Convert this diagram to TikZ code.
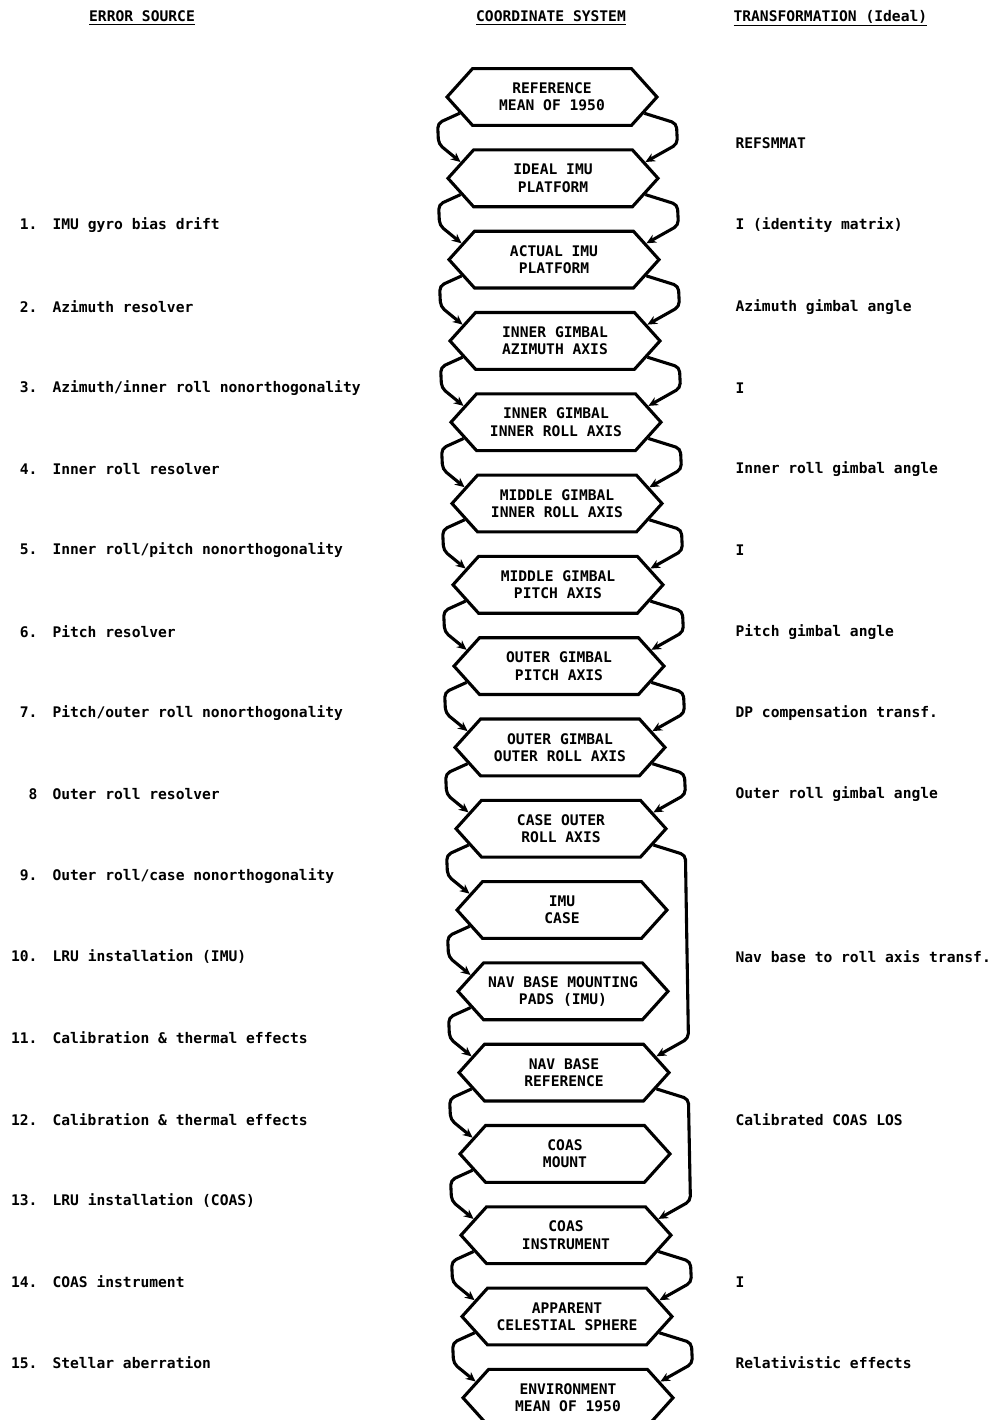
\documentclass[tikz,border=0pt]{standalone}
\usepackage{fontspec}
\setmainfont{DejaVu Sans Mono}
\usetikzlibrary{arrows.meta,shapes.symbols,calc}
\tikzset{>={Stealth[length=2.4mm,width=2.2mm]}}
\newcommand{\errno}[1]{\makebox[6.5mm][r]{#1}\hspace{3.75mm}}

\begin{document}
\begin{tikzpicture}[x=0.25mm, y=-0.25mm, line width=2.2pt,
  every node/.style={font=\fontsize{10.4}{12.2}\selectfont\bfseries},
  coord/.style={signal, signal to=west and east, signal pointer angle=96, draw,
    minimum width=52.5mm, minimum height=14.2mm, inner sep=0pt, align=center},
  lft/.style={to path={(\tikztostart.190) -- ++(-22,10) -- ($(\tikztotarget.170)+(-22,-18)$) -- (\tikztotarget.170)}},
  rgt/.style={to path={(\tikztostart.350) -- ++(32,10) -- ($(\tikztotarget.10)+(32,-18)$) -- (\tikztotarget.10)}},
  link/.style={->, rounded corners=1.2mm},
  err/.style={anchor=west, inner sep=0pt},
  trf/.style={anchor=west, inner sep=0pt}]
  \path[use as bounding box, clip] (0,0) rectangle (998,1420);

  % column headings
  \node (hsrc) at (142,18) {\underline{ERROR SOURCE}};
  \node (hsys) at (551,18) {\underline{COORDINATE SYSTEM}};
  \node (htrf) at (732,18) [trf] {\underline{TRANSFORMATION (Ideal)}};

  % coordinate systems
  \node (ref) at (552,97) [coord] {REFERENCE\\MEAN OF 1950};
  \node (ideal) at (553,178.3) [coord] {IDEAL IMU\\PLATFORM};
  \node (actual) at (554,259.6) [coord] {ACTUAL IMU\\PLATFORM};
  \node (igaz) at (555,340.9) [coord] {INNER GIMBAL\\AZIMUTH AXIS};
  \node (igir) at (556,422.2) [coord] {INNER GIMBAL\\INNER ROLL AXIS};
  \node (mgir) at (557,503.5) [coord] {MIDDLE GIMBAL\\INNER ROLL AXIS};
  \node (mgp) at (558,584.8) [coord] {MIDDLE GIMBAL\\PITCH AXIS};
  \node (ogp) at (559,666.1) [coord] {OUTER GIMBAL\\PITCH AXIS};
  \node (ogor) at (560,747.4) [coord] {OUTER GIMBAL\\OUTER ROLL AXIS};
  \node (case) at (561,828.7) [coord] {CASE OUTER\\ROLL AXIS};
  \node (imucase) at (562,910) [coord] {IMU\\CASE};
  \node (pads) at (563,991.3) [coord] {NAV BASE MOUNTING\\PADS (IMU)};
  \node (navbase) at (564,1072.6) [coord] {NAV BASE\\REFERENCE};
  \node (mount) at (565,1153.9) [coord] {COAS\\MOUNT};
  \node (coas) at (566,1235.2) [coord] {COAS\\INSTRUMENT};
  \node (sphere) at (567,1316.5) [coord] {APPARENT\\CELESTIAL SPHERE};
  \node (env) at (568,1397.8) [coord] {ENVIRONMENT\\MEAN OF 1950};

  % left chain
  \draw[link] (ref) to[lft] (ideal);
  \draw[link] (ideal) to[lft] (actual);
  \draw[link] (actual) to[lft] (igaz);
  \draw[link] (igaz) to[lft] (igir);
  \draw[link] (igir) to[lft] (mgir);
  \draw[link] (mgir) to[lft] (mgp);
  \draw[link] (mgp) to[lft] (ogp);
  \draw[link] (ogp) to[lft] (ogor);
  \draw[link] (ogor) to[lft] (case);
  \draw[link] (case) to[lft] (imucase);
  \draw[link] (imucase) to[lft] (pads);
  \draw[link] (pads) to[lft] (navbase);
  \draw[link] (navbase) to[lft] (mount);
  \draw[link] (mount) to[lft] (coas);
  \draw[link] (coas) to[lft] (sphere);
  \draw[link] (sphere) to[lft] (env);

  % right chain
  \draw[link] (ref) to[rgt] (ideal);
  \draw[link] (ideal) to[rgt] (actual);
  \draw[link] (actual) to[rgt] (igaz);
  \draw[link] (igaz) to[rgt] (igir);
  \draw[link] (igir) to[rgt] (mgir);
  \draw[link] (mgir) to[rgt] (mgp);
  \draw[link] (mgp) to[rgt] (ogp);
  \draw[link] (ogp) to[rgt] (ogor);
  \draw[link] (ogor) to[rgt] (case);
  \draw[link] (case) to[rgt] (navbase);
  \draw[link] (navbase) to[rgt] (coas);
  \draw[link] (coas) to[rgt] (sphere);
  \draw[link] (sphere) to[rgt] (env);

  % error sources
  \node (e1) at (10,225) [err] {\errno{1.}IMU gyro bias drift};
  \node (e2) at (10,307) [err] {\errno{2.}Azimuth resolver};
  \node (e3) at (10,388) [err] {\errno{3.}Azimuth/inner roll nonorthogonality};
  \node (e4) at (10,469) [err] {\errno{4.}Inner roll resolver};
  \node (e5) at (10,550) [err] {\errno{5.}Inner roll/pitch nonorthogonality};
  \node (e6) at (10,632) [err] {\errno{6.}Pitch resolver};
  \node (e7) at (10,713) [err] {\errno{7.}Pitch/outer roll nonorthogonality};
  \node (e8) at (10,794) [err] {\errno{8}Outer roll resolver};
  \node (e9) at (10,876) [err] {\errno{9.}Outer roll/case nonorthogonality};
  \node (e10) at (10,957) [err] {\errno{10.}LRU installation (IMU)};
  \node (e11) at (10,1038) [err] {\errno{11.}Calibration \& thermal effects};
  \node (e12) at (10,1120) [err] {\errno{12.}Calibration \& thermal effects};
  \node (e13) at (10,1201) [err] {\errno{13.}LRU installation (COAS)};
  \node (e14) at (10,1282) [err] {\errno{14.}COAS instrument};
  \node (e15) at (10,1363) [err] {\errno{15.}Stellar aberration};

  % transformations
  \node (t0) at (734,143) [trf] {REFSMMAT};
  \node (t1) at (734,225) [trf] {I (identity matrix)};
  \node (t2) at (734,307) [trf] {Azimuth gimbal angle};
  \node (t3) at (734,388) [trf] {I};
  \node (t4) at (734,469) [trf] {Inner roll gimbal angle};
  \node (t5) at (734,550) [trf] {I};
  \node (t6) at (734,632) [trf] {Pitch gimbal angle};
  \node (t7) at (734,713) [trf] {DP compensation transf.};
  \node (t8) at (734,794) [trf] {Outer roll gimbal angle};
  \node (t10) at (734,957) [trf] {Nav base to roll axis transf.};
  \node (t12) at (734,1120) [trf] {Calibrated COAS LOS};
  \node (t14) at (734,1282) [trf] {I};
  \node (t15) at (734,1363) [trf] {Relativistic effects};
\end{tikzpicture}
\end{document}
